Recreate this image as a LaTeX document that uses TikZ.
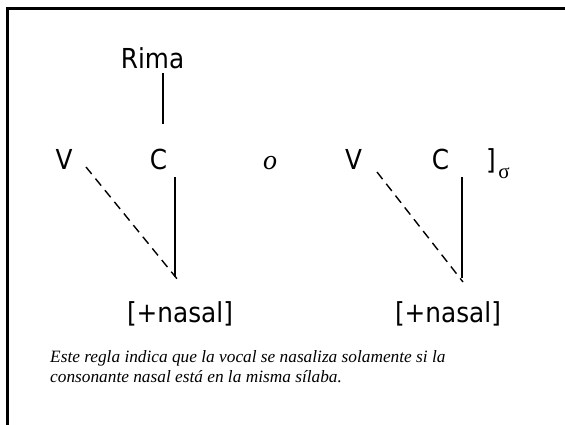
\documentclass[tikz,border=0pt]{standalone}
\usepackage{fontspec}
\setmainfont{Liberation Serif}
\newfontfamily\diagfont{DejaVu Sans}[FakeStretch=0.9]
\begin{document}
\begin{tikzpicture}[x=1pt,y=-1pt,
  seg/.style={inner sep=0pt, anchor=base, font=\diagfont\fontsize{27.5}{33}\selectfont},
  tie/.style={line width=1.4pt},
  spread/.style={line width=1.4pt, dash pattern=on 9pt off 6pt},
  frameline/.style={line width=3pt}]
\useasboundingbox (0,0) rectangle (565,424);
% open frame along the top and left
\draw[frameline] (7.5,430) -- (7.5,8) -- (570,8);

% first representation: coda C inside the rhyme
\node[seg] (rima) at (152.5,68) {Rima};
\node[seg] (v1) at (64,169) {V};
\node[seg] (c1) at (158.5,169) {C};
\node[seg] (n1) at (180,322) {[+nasal]};
\coordinate (r1top) at (163,73);
\coordinate (r1bot) at (163,124);
\coordinate (c1top) at (175,177);
\coordinate (c1bot) at (175,277);
\coordinate (v1top) at (86,167);
\coordinate (v1bot) at (178,280);
\draw[tie] (r1top) -- (r1bot);
\draw[tie] (c1top) -- (c1bot);
\draw[spread] (v1top) -- (v1bot);

\node[inner sep=0pt, anchor=base, font=\itshape\fontsize{28}{33}\selectfont] (or) at (270,169) {o};

% second representation: C closes the syllable
\node[seg] (v2) at (353.5,169) {V};
\node[seg] (c2) at (440.5,169) {C};
\node[seg, anchor=base west] (br) at (486,169) {]};
\node[inner sep=0pt, anchor=base, font=\fontsize{21}{24}\selectfont] (sig) at (504,178) {σ};
\node[seg] (n2) at (448,322) {[+nasal]};
\coordinate (c2top) at (462,177);
\coordinate (c2bot) at (462,278);
\coordinate (v2top) at (377,172);
\coordinate (v2bot) at (463,282);
\draw[tie] (c2top) -- (c2bot);
\draw[spread] (v2top) -- (v2bot);

% explanatory note
\node[inner sep=0pt, anchor=base west, font=\itshape\fontsize{17.3}{20}\selectfont] (note1) at (50,362) {Este regla indica que la vocal se nasaliza solamente si la};
\node[inner sep=0pt, anchor=base west, font=\itshape\fontsize{17.3}{20}\selectfont] (note2) at (50,382) {consonante nasal está en la misma sílaba.};
\end{tikzpicture}
\end{document}
